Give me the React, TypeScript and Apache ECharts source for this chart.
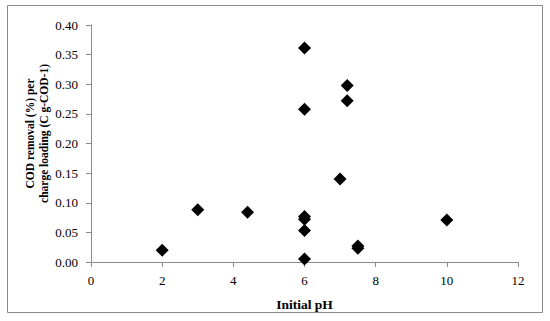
import React, { useEffect, useRef } from "react";
import * as echarts from "echarts";

const phValues = [2, 3, 4.4, 6, 6, 6, 6, 6, 6, 7.2, 7.2, 7, 7.5, 7.5, 10];
const codRemoval = [0.02, 0.088, 0.084, 0.361, 0.258, 0.077, 0.072, 0.053, 0.005, 0.298, 0.272, 0.14, 0.027, 0.023, 0.071];
const xTicks = [0, 2, 4, 6, 8, 10, 12];
const yTicks = [0, 0.05, 0.1, 0.15, 0.2, 0.25, 0.3, 0.35, 0.4];

const FONT = "'Liberation Serif', 'DejaVu Serif', serif";

export default function App() {
  const ref = useRef<HTMLDivElement>(null);
  useEffect(() => {
    if (!ref.current) return;
    const chart = echarts.init(ref.current, undefined, { renderer: "svg" });
    const data = phValues.map((x, i) => [x, codRemoval[i]]);
    chart.setOption({
      animation: false,
      backgroundColor: "#ffffff",
      graphic: [
        {
          type: "rect",
          shape: { x: 7.5, y: 5.5, width: 535, height: 307 },
          style: { fill: "none", stroke: "#8a8a8a", lineWidth: 1 },
          silent: true,
        },
      ],
      grid: { left: 91, right: 32, top: 25, bottom: 59 },
      xAxis: {
        type: "value",
        min: xTicks[0],
        max: xTicks[xTicks.length - 1],
        interval: 2,
        name: "Initial pH",
        nameLocation: "middle",
        nameGap: 35,
        nameMoveOverlap: false,
        nameTextStyle: { fontFamily: FONT, fontWeight: "bold", fontSize: 13.5, color: "#000" },
        axisLine: { show: true, lineStyle: { color: "#8a8a8a", width: 1 } },
        axisTick: { show: true, length: 5, lineStyle: { color: "#8a8a8a" } },
        axisLabel: { fontFamily: FONT, fontSize: 13, color: "#000", margin: 12 },
        splitLine: { show: false },
      },
      yAxis: {
        type: "value",
        min: yTicks[0],
        max: yTicks[yTicks.length - 1],
        interval: 0.05,
        name: "COD removal (%) per\ncharge loading (C g-COD-1)",
        nameLocation: "middle",
        nameRotate: 90,
        nameGap: 40,
        nameMoveOverlap: false,
        nameTextStyle: {
          fontFamily: FONT,
          fontWeight: "bold",
          fontSize: 11.5,
          color: "#000",
          lineHeight: 14,
          padding: [0, 0, 0, 20],
        },
        axisLine: { show: true, lineStyle: { color: "#8a8a8a", width: 1 } },
        axisTick: { show: true, length: 5, lineStyle: { color: "#8a8a8a" } },
        axisLabel: {
          fontFamily: FONT,
          fontSize: 13,
          color: "#000",
          margin: 13,
          formatter: (v: number) => v.toFixed(2),
        },
        splitLine: { show: false },
      },
      series: [
        {
          type: "scatter",
          data,
          symbol: "diamond",
          symbolSize: 13,
          itemStyle: { color: "#000000", opacity: 1 },
        },
      ],
    });
    return () => chart.dispose();
  }, []);
  return (
    <div
      ref={ref}
      style={{ position: "fixed", left: 0, top: 0, width: 550, height: 321 }}
    />
  );
}
